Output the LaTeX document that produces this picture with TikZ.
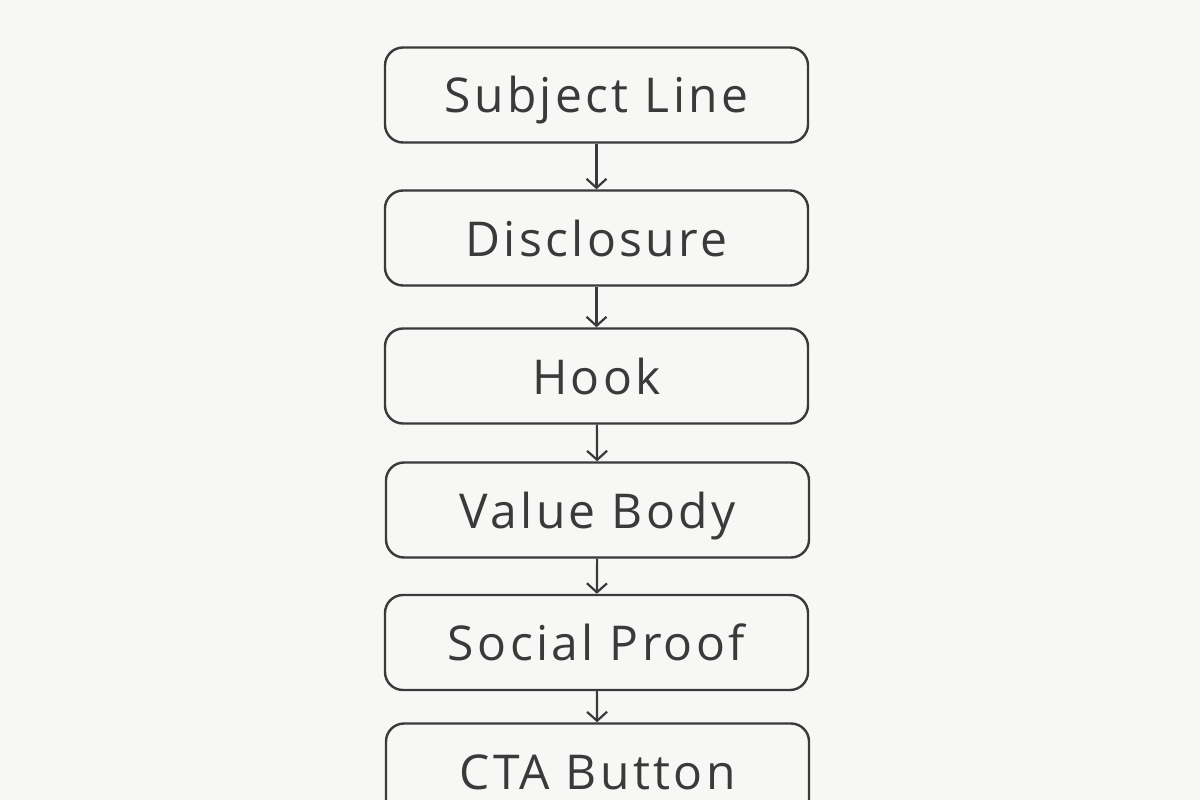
\documentclass[tikz,border=0pt]{standalone}
\usepackage{fontspec}
\setmainfont{Open Sans}[LetterSpace=7]
\usetikzlibrary{arrows.meta}
\definecolor{bg}{HTML}{F7F7F5}
\definecolor{ink}{HTML}{3A3A3A}
\tikzset{
  stepbox/.style={draw=ink, line width=2.4pt, rounded corners=18pt, minimum width=423pt, minimum height=95pt, inner sep=0pt, text height=46pt, text depth=10pt, text=ink, font=\fontsize{48}{52}\selectfont, anchor=center},
  flow/.style={draw=ink, line width=2.2pt, -{Straight Barb[length=9pt,width=20pt,line width=2.2pt]}}
}
\begin{document}
\begin{tikzpicture}[x=1pt,y=-1pt]
\useasboundingbox (0,0) rectangle (1200,800);
\fill[bg] (0,0) rectangle (1200,800);
\clip (0,0) rectangle (1200,800);
\node[stepbox] (a) at (596.5,95) {Subject Line};
\node[stepbox] (b) at (596.5,238) {Disclosure};
\node[stepbox] (c) at (596.5,376) {Hook};
\node[stepbox] (d) at (597.5,510) {Value Body};
\node[stepbox] (e) at (596.5,642.5) {Social Proof};
\node[stepbox] (f) at (597.5,771) {CTA Button};
\draw[flow] (a) -- (b);
\draw[flow] (b) -- (c);
\draw[flow] (c) -- (d);
\draw[flow] (d) -- (e);
\draw[flow] (e) -- (f);
\end{tikzpicture}
\end{document}
